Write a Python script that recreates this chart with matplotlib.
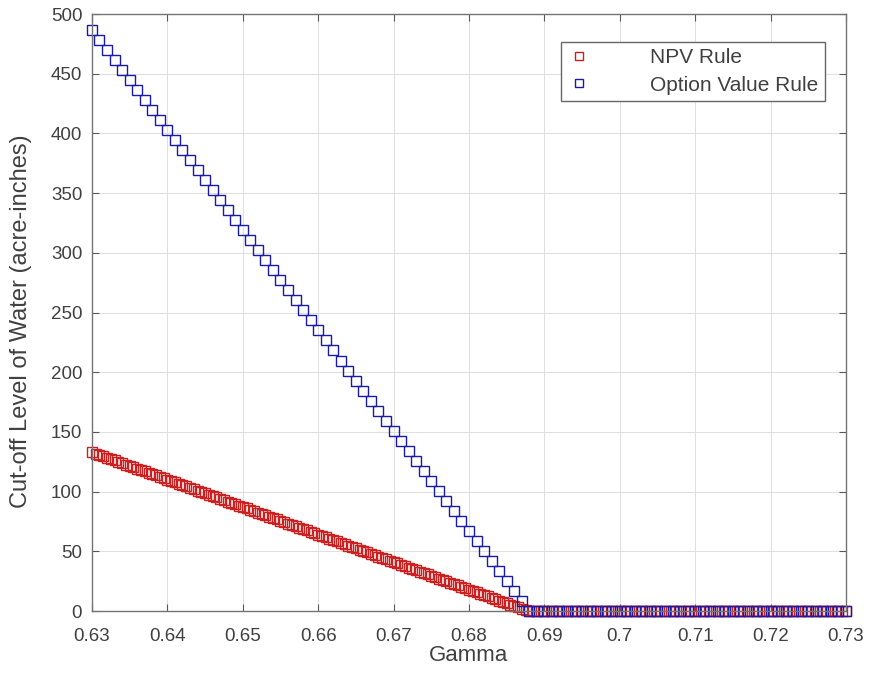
import matplotlib.pyplot as plt
import numpy as np
from matplotlib.ticker import FormatStrFormatter

plt.rcParams['font.family'] = ['Liberation Sans', 'DejaVu Sans']

# gamma grids (NPV rule solved on a finer grid)
gamma_npv = np.round(np.arange(0.63, 0.73 + 1e-9, 0.0005), 4)
gamma_opt = np.round(np.arange(0.63, 0.73 + 1e-9, 0.001), 3)

# cut-off water level, acre-inches
npv_rule = [
    133.0, 131.9, 130.7, 129.6, 128.4, 127.3, 126.1, 125.0, 123.8, 122.7,
    121.5, 120.4, 119.2, 118.1, 116.9, 115.8, 114.6, 113.5, 112.3, 111.2,
    110.0, 108.9, 107.7, 106.6, 105.4, 104.3, 103.1, 102.0, 100.8, 99.7,
    98.5, 97.4, 96.2, 95.1, 93.9, 92.8, 91.6, 90.5, 89.3, 88.2,
    87.0, 85.9, 84.7, 83.6, 82.4, 81.3, 80.1, 79.0, 77.8, 76.7,
    75.5, 74.4, 73.2, 72.1, 70.9, 69.8, 68.6, 67.5, 66.3, 65.2,
    64.0, 62.9, 61.7, 60.6, 59.4, 58.3, 57.1, 56.0, 54.8, 53.7,
    52.5, 51.4, 50.2, 49.1, 47.9, 46.8, 45.6, 44.5, 43.3, 42.2,
    41.0, 39.9, 38.7, 37.6, 36.4, 35.3, 34.1, 33.0, 31.8, 30.7,
    29.5, 28.4, 27.2, 26.1, 24.9, 23.8, 22.6, 21.5, 20.3, 19.2,
    18.0, 16.9, 15.7, 14.6, 13.4, 12.3, 11.1, 10.0, 8.8, 7.7,
    6.5, 5.4, 4.2, 3.1, 1.9, 0.8,
] + [0.0] * 85

option_rule = [
    487.0, 478.6, 470.2, 461.8, 453.4, 445.0, 436.6, 428.2, 419.8, 411.4,
    403.0, 394.6, 386.2, 377.8, 369.4, 361.0, 352.6, 344.2, 335.8, 327.4,
    319.0, 310.6, 302.2, 293.8, 285.4, 277.0, 268.6, 260.2, 251.8, 243.4,
    235.0, 226.6, 218.2, 209.8, 201.4, 193.0, 184.6, 176.2, 167.8, 159.4,
    151.0, 142.6, 134.2, 125.8, 117.4, 109.0, 100.6, 92.2, 83.8, 75.4,
    67.0, 58.6, 50.2, 41.8, 33.4, 25.0, 16.6, 8.2,
] + [0.0] * 43

fig = plt.figure(figsize=(8.7, 6.87), dpi=100)
ax = fig.add_axes([0.1057, 0.1106, 0.8667, 0.869])

ax.plot(gamma_npv, npv_rule, 's', ls='none', mfc='none', mec=(0.8, 0.12, 0.12),
        ms=7, mew=1.0, clip_on=False, label='NPV Rule')
ax.plot(gamma_opt, option_rule, 's', ls='none', mfc='none', mec=(0.1, 0.1, 0.66),
        ms=7, mew=1.0, clip_on=False, label='Option Value Rule')

ax.set_xlim(0.63, 0.73)
ax.set_ylim(0, 500)
ax.set_xticks(np.arange(0.63, 0.7301, 0.01))
ax.set_yticks(np.arange(0, 501, 50))
ax.xaxis.set_major_formatter(FormatStrFormatter('%g'))

grey = (0.25, 0.25, 0.25)
ax.grid(True, color=(0.87, 0.87, 0.87), lw=0.7)
ax.set_axisbelow(True)
for spine in ax.spines.values():
    spine.set_edgecolor((0.45, 0.45, 0.45))
    spine.set_linewidth(1.0)
ax.tick_params(direction='in', top=True, right=True, length=5, width=0.8,
               color=(0.35, 0.35, 0.35), labelsize=13.5, labelcolor=grey, pad=7)
ax.tick_params(axis='x', pad=12)

ax.set_xlabel('Gamma', fontsize=16, color=grey, labelpad=0)
ax.set_ylabel('Cut-off Level of Water (acre-inches)', fontsize=17, color=grey)
ax.yaxis.set_label_coords(-0.08, 0.485)

leg = ax.legend(loc='upper right', bbox_to_anchor=(0.972, 0.953), fontsize=15,
                fancybox=False, edgecolor=(0.4, 0.4, 0.4), framealpha=1,
                handlelength=1.1, handletextpad=2.9, markerscale=0.75,
                borderpad=0.3, labelspacing=0.4, borderaxespad=0)
leg.get_frame().set_linewidth(1.0)
for t in leg.get_texts():
    t.set_color(grey)

plt.savefig('out.png', dpi=100)
